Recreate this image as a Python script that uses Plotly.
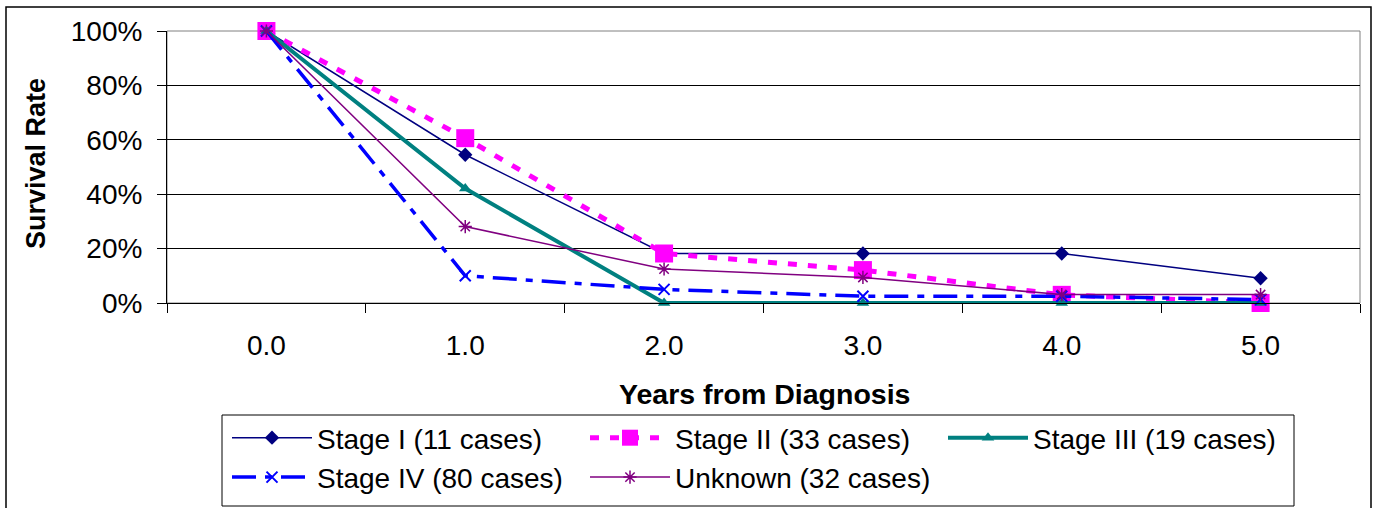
import plotly.graph_objects as go

years = [0, 1, 2, 3, 4, 5]
year_labels = ["0.0", "1.0", "2.0", "3.0", "4.0", "5.0"]

stage1 = [1.0, 0.545, 0.182, 0.182, 0.182, 0.091]
stage2 = [1.0, 0.606, 0.182, 0.121, 0.030, 0.0]
stage3 = [1.0, 0.421, 0.0, 0.0, 0.0, 0.0]
stage4 = [1.0, 0.10, 0.05, 0.025, 0.025, 0.0125]
unknown = [1.0, 0.281, 0.125, 0.094, 0.031, 0.031]

names = ["Stage I (11 cases)", "Stage II (33 cases)", "Stage III (19 cases)",
         "Stage IV (80 cases)", "Unknown (32 cases)"]

W, H = 1378, 508
L, R, T, B = 167, 18, 31, 205
PW, PH = W - L - R, H - T - B


def px(x):
    return (x - L) / PW


def py(y):
    return (H - B - y) / PH


FONT = "Liberation Sans, Arial, sans-serif"

fig = go.Figure()
fig.add_trace(go.Scatter(x=years, y=stage1, name=names[0], mode="lines+markers",
                         line=dict(color="#000080", width=1.5),
                         marker=dict(symbol="diamond", size=11, color="#000080"),
                         cliponaxis=False))
fig.add_trace(go.Scatter(x=years, y=stage2, name=names[1], mode="lines+markers",
                         line=dict(color="#FF00FF", width=5, dash="9px,11px"),
                         marker=dict(symbol="square", size=18, color="#FF00FF"),
                         cliponaxis=False))
fig.add_trace(go.Scatter(x=years, y=stage3, name=names[2], mode="lines+markers",
                         line=dict(color="#008080", width=4),
                         marker=dict(symbol="triangle-up", size=11, color="#008080"),
                         cliponaxis=False))
fig.add_trace(go.Scatter(x=years, y=stage4, name=names[3], mode="lines+markers",
                         line=dict(color="#0000FF", width=3.5, dash="24px,9px,7px,9px"),
                         marker=dict(symbol="x-thin", size=11, color="#0000FF",
                                     line=dict(color="#0000FF", width=2)),
                         cliponaxis=False))
fig.add_trace(go.Scatter(x=years, y=unknown, name=names[4], mode="lines+markers",
                         line=dict(color="#800080", width=1.5),
                         marker=dict(symbol="asterisk", size=11, color="#800080",
                                     line=dict(color="#800080", width=1.5)),
                         cliponaxis=False))

fig.update_layout(
    width=W, height=H,
    margin=dict(l=L, r=R, t=T, b=B),
    paper_bgcolor="white", plot_bgcolor="white",
    font=dict(family=FONT, color="black", size=28),
    showlegend=True,
    legend=dict(orientation="h", xref="container", yref="container",
                x=227 / W, y=1 - 413 / H, xanchor="left", yanchor="top",
                entrywidth=263, entrywidthmode="pixels", itemwidth=80,
                font=dict(size=28, family=FONT), bgcolor="rgba(0,0,0,0)",
                borderwidth=0, traceorder="normal", itemclick=False),
    xaxis=dict(range=[-0.5, 5.5], tickmode="array", tickvals=years, ticktext=year_labels,
               ticks="", showgrid=False, zeroline=False, showline=True,
               linecolor="black", linewidth=1, ticklabelstandoff=17,
               tickfont=dict(size=28),
               minor=dict(tickmode="array", tickvals=[-0.5, 0.5, 1.5, 2.5, 3.5, 4.5, 5.5],
                          ticks="outside", ticklen=9, tickcolor="black", tickwidth=1,
                          showgrid=False)),
    yaxis=dict(range=[0, 1], tickmode="array", tickvals=[0, 0.2, 0.4, 0.6, 0.8, 1.0],
               tickformat=".0%", ticks="outside", ticklen=9, tickcolor="black",
               showgrid=True, gridcolor="black", gridwidth=1, zeroline=False,
               showline=True, linecolor="black", linewidth=1, ticklabelstandoff=9,
               tickfont=dict(size=28)),
    shapes=[
        dict(type="rect", xref="paper", yref="paper", x0=0, x1=1, y0=0, y1=1,
             line=dict(color="#808080", width=1), layer="below"),
        dict(type="rect", xref="paper", yref="paper", x0=px(222), x1=px(1294),
             y0=py(506), y1=py(415), line=dict(color="black", width=1)),
        dict(type="rect", xref="paper", yref="paper", x0=px(6), x1=px(1371),
             y0=py(520), y1=py(7), line=dict(color="black", width=1.5)),
    ],
    annotations=[
        dict(text="<b>Years from Diagnosis</b>", xref="paper", yref="paper",
             x=px(764), y=py(394), xanchor="center", yanchor="middle",
             showarrow=False, font=dict(size=28.5, family=FONT)),
        dict(text="<b>Survival Rate</b>", xref="paper", yref="paper",
             x=px(36), y=py(164), xanchor="center", yanchor="middle", textangle=-90,
             showarrow=False, font=dict(size=27, family=FONT)),
    ],
)

fig.write_html("out.html")
